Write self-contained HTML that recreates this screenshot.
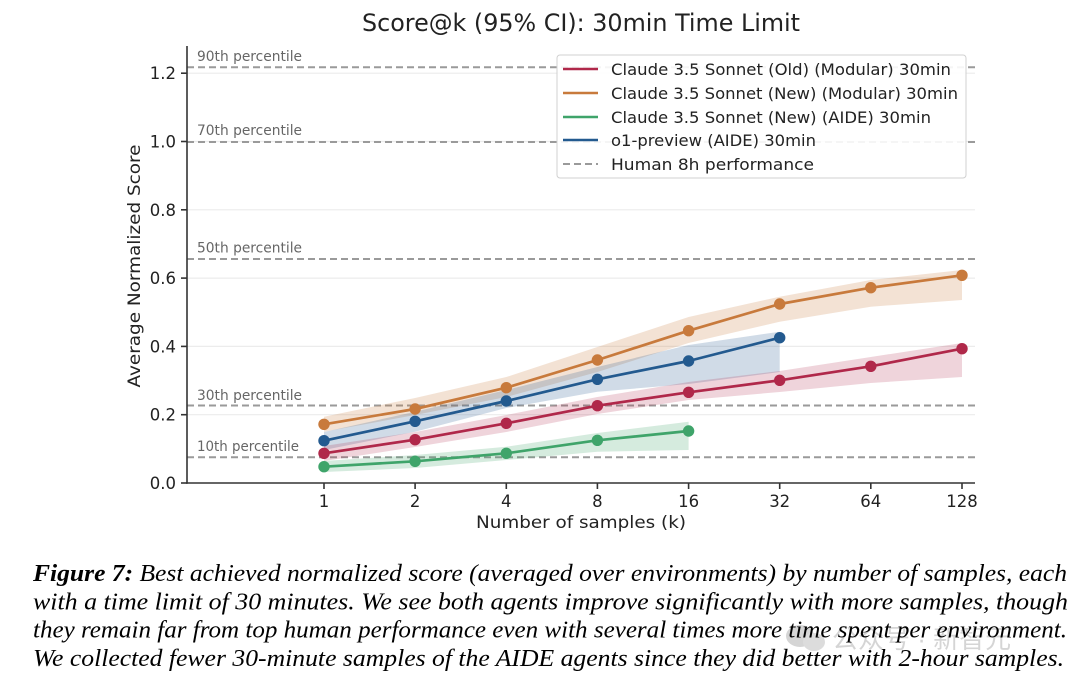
<!DOCTYPE html>
<html>
<head>
<meta charset="utf-8">
<style>
  html,body{margin:0;padding:0;background:#fff;}
  svg{display:block;}
</style>
</head>
<body>
<svg width="1080" height="686" viewBox="0 0 1080 686" xmlns="http://www.w3.org/2000/svg">
  <rect x="0" y="0" width="1080" height="686" fill="#fff"/>

  <!-- Title -->
  <text x="581" y="31" text-anchor="middle" font-family="'DejaVu Sans','Liberation Sans',sans-serif" font-size="24" fill="#222" textLength="438" lengthAdjust="spacingAndGlyphs">Score@k (95% CI): 30min Time Limit</text>

  <!-- gridlines -->
  <g stroke="#ececec" stroke-width="1.2">
    <line x1="187" y1="414.7" x2="975" y2="414.7"/>
    <line x1="187" y1="346.4" x2="975" y2="346.4"/>
    <line x1="187" y1="278.1" x2="975" y2="278.1"/>
    <line x1="187" y1="209.8" x2="975" y2="209.8"/>
    <line x1="187" y1="141.5" x2="975" y2="141.5"/>
    <line x1="187" y1="73.2" x2="975" y2="73.2"/>
  </g>

  <!-- human percentile dashed lines -->
  <g stroke="#9a9a9a" stroke-width="2" stroke-dasharray="7 4" fill="none">
    <line x1="187" y1="67.3" x2="975" y2="67.3"/>
    <line x1="187" y1="142" x2="975" y2="142"/>
    <line x1="187" y1="259" x2="975" y2="259"/>
    <line x1="187" y1="405.5" x2="975" y2="405.5"/>
    <line x1="187" y1="457.3" x2="975" y2="457.3"/>
  </g>
  <g font-family="'DejaVu Sans','Liberation Sans',sans-serif" font-size="14" fill="#666">
    <text x="197" y="61" textLength="105" lengthAdjust="spacingAndGlyphs">90th percentile</text>
    <text x="197" y="135" textLength="105" lengthAdjust="spacingAndGlyphs">70th percentile</text>
    <text x="197" y="252.5" textLength="105" lengthAdjust="spacingAndGlyphs">50th percentile</text>
    <text x="197" y="400" textLength="105" lengthAdjust="spacingAndGlyphs">30th percentile</text>
    <text x="197" y="451" textLength="102" lengthAdjust="spacingAndGlyphs">10th percentile</text>
  </g>

  <!-- CI bands -->
  <polygon fill="#c87a3c" fill-opacity="0.22" points="324,416.7 415.1,398 506.3,377 597.4,347 688.6,317 779.7,296.7 870.8,280 962,270 962,300 870.8,306.7 779.7,321.7 688.6,343 597.4,372 506.3,397 415.1,415 324,431.7"/>
  <polygon fill="#2a5d91" fill-opacity="0.22" points="324,432 415.1,411.7 506.3,390 597.4,367 688.6,345 779.7,331.7 779.7,372 688.6,384 597.4,391.7 506.3,408 415.1,431.7 324,450"/>
  <polygon fill="#b0284a" fill-opacity="0.2" points="324,446 415.1,432 506.3,415 597.4,397 688.6,382 779.7,371 870.8,357 962,343 962,377 870.8,383 779.7,392 688.6,400 597.4,414 506.3,432 415.1,447 324,461"/>
  <polygon fill="#3fa46a" fill-opacity="0.22" points="324,461 415.1,455 506.3,446.7 597.4,433 688.6,421.7 688.6,450 597.4,451.7 506.3,460 415.1,468 324,472"/>

  <!-- series lines -->
  <g fill="none" stroke-width="2.7" stroke-linejoin="round">
    <polyline stroke="#c87a3c" points="324,424.3 415.1,409 506.3,387.7 597.4,360 688.6,330.7 779.7,304 870.8,287.7 962,275.3"/>
    <polyline stroke="#235a8f" points="324,440.7 415.1,421.3 506.3,401 597.4,379.3 688.6,361 779.7,337.7"/>
    <polyline stroke="#b0284a" points="324,453.3 415.1,439.7 506.3,423.3 597.4,405.7 688.6,392.3 779.7,380.3 870.8,366.3 962,348.7"/>
    <polyline stroke="#3fa46a" points="324,466.7 415.1,461.3 506.3,453.3 597.4,440.3 688.6,431"/>
  </g>
  <!-- markers -->
  <g fill="#c87a3c">
    <circle cx="324" cy="424.3" r="5.7"/><circle cx="415.1" cy="409" r="5.7"/><circle cx="506.3" cy="387.7" r="5.7"/><circle cx="597.4" cy="360" r="5.7"/><circle cx="688.6" cy="330.7" r="5.7"/><circle cx="779.7" cy="304" r="5.7"/><circle cx="870.8" cy="287.7" r="5.7"/><circle cx="962" cy="275.3" r="5.7"/>
  </g>
  <g fill="#235a8f">
    <circle cx="324" cy="440.7" r="5.7"/><circle cx="415.1" cy="421.3" r="5.7"/><circle cx="506.3" cy="401" r="5.7"/><circle cx="597.4" cy="379.3" r="5.7"/><circle cx="688.6" cy="361" r="5.7"/><circle cx="779.7" cy="337.7" r="5.7"/>
  </g>
  <g fill="#b0284a">
    <circle cx="324" cy="453.3" r="5.7"/><circle cx="415.1" cy="439.7" r="5.7"/><circle cx="506.3" cy="423.3" r="5.7"/><circle cx="597.4" cy="405.7" r="5.7"/><circle cx="688.6" cy="392.3" r="5.7"/><circle cx="779.7" cy="380.3" r="5.7"/><circle cx="870.8" cy="366.3" r="5.7"/><circle cx="962" cy="348.7" r="5.7"/>
  </g>
  <g fill="#3fa46a">
    <circle cx="324" cy="466.7" r="5.7"/><circle cx="415.1" cy="461.3" r="5.7"/><circle cx="506.3" cy="453.3" r="5.7"/><circle cx="597.4" cy="440.3" r="5.7"/><circle cx="688.6" cy="431" r="5.7"/>
  </g>

  <!-- axes -->
  <g stroke="#333" stroke-width="1.6">
    <line x1="187" y1="46" x2="187" y2="483.8"/>
    <line x1="186.2" y1="483" x2="975" y2="483"/>
    <line x1="181" y1="483" x2="187" y2="483"/>
    <line x1="181" y1="414.7" x2="187" y2="414.7"/>
    <line x1="181" y1="346.4" x2="187" y2="346.4"/>
    <line x1="181" y1="278.1" x2="187" y2="278.1"/>
    <line x1="181" y1="209.8" x2="187" y2="209.8"/>
    <line x1="181" y1="141.5" x2="187" y2="141.5"/>
    <line x1="181" y1="73.2" x2="187" y2="73.2"/>
    <line x1="324" y1="483" x2="324" y2="489"/>
    <line x1="415.1" y1="483" x2="415.1" y2="489"/>
    <line x1="506.3" y1="483" x2="506.3" y2="489"/>
    <line x1="597.4" y1="483" x2="597.4" y2="489"/>
    <line x1="688.6" y1="483" x2="688.6" y2="489"/>
    <line x1="779.7" y1="483" x2="779.7" y2="489"/>
    <line x1="870.8" y1="483" x2="870.8" y2="489"/>
    <line x1="962" y1="483" x2="962" y2="489"/>
  </g>

  <!-- y tick labels -->
  <g font-family="'DejaVu Sans','Liberation Sans',sans-serif" font-size="16.5" fill="#222" text-anchor="end">
    <text x="176" y="489">0.0</text>
    <text x="176" y="420.7">0.2</text>
    <text x="176" y="352.4">0.4</text>
    <text x="176" y="284.1">0.6</text>
    <text x="176" y="215.8">0.8</text>
    <text x="176" y="147.5">1.0</text>
    <text x="176" y="79.2">1.2</text>
  </g>
  <!-- x tick labels -->
  <g font-family="'DejaVu Sans','Liberation Sans',sans-serif" font-size="16.5" fill="#222" text-anchor="middle">
    <text x="324" y="507">1</text>
    <text x="415.1" y="507">2</text>
    <text x="506.3" y="507">4</text>
    <text x="597.4" y="507">8</text>
    <text x="688.6" y="507">16</text>
    <text x="779.7" y="507">32</text>
    <text x="870.8" y="507">64</text>
    <text x="962" y="507">128</text>
  </g>

  <!-- axis labels -->
  <text x="581" y="528" text-anchor="middle" font-family="'DejaVu Sans','Liberation Sans',sans-serif" font-size="17" fill="#222" textLength="210" lengthAdjust="spacingAndGlyphs">Number of samples (k)</text>
  <text transform="translate(140,266) rotate(-90)" text-anchor="middle" font-family="'DejaVu Sans','Liberation Sans',sans-serif" font-size="17" fill="#222" textLength="243" lengthAdjust="spacingAndGlyphs">Average Normalized Score</text>

  <!-- legend -->
  <rect x="557" y="55" width="409" height="123" rx="3" fill="#fff" fill-opacity="0.9" stroke="#d0d0d0" stroke-width="1"/>
  <g stroke-width="2.4">
    <line x1="563" y1="69" x2="598" y2="69" stroke="#b0284a"/>
    <line x1="563" y1="93" x2="598" y2="93" stroke="#c87a3c"/>
    <line x1="563" y1="117" x2="598" y2="117" stroke="#3fa46a"/>
    <line x1="563" y1="140" x2="598" y2="140" stroke="#235a8f"/>
    <line x1="563" y1="164" x2="598" y2="164" stroke="#9a9a9a" stroke-dasharray="7 4" stroke-width="2"/>
  </g>
  <g font-family="'DejaVu Sans','Liberation Sans',sans-serif" font-size="16" fill="#222">
    <text x="611" y="75" textLength="340" lengthAdjust="spacingAndGlyphs">Claude 3.5 Sonnet (Old) (Modular) 30min</text>
    <text x="611" y="99" textLength="347" lengthAdjust="spacingAndGlyphs">Claude 3.5 Sonnet (New) (Modular) 30min</text>
    <text x="611" y="123" textLength="320" lengthAdjust="spacingAndGlyphs">Claude 3.5 Sonnet (New) (AIDE) 30min</text>
    <text x="611" y="146" textLength="205" lengthAdjust="spacingAndGlyphs">o1-preview (AIDE) 30min</text>
    <text x="611" y="170" textLength="203" lengthAdjust="spacingAndGlyphs">Human 8h performance</text>
  </g>

  <!-- watermark -->
  <g opacity="0.4">
    <ellipse cx="800" cy="636" rx="14" ry="11" fill="#999"/>
    <ellipse cx="814" cy="642" rx="11" ry="9" fill="#aaa"/>
    <text x="832" y="648" font-family="'Liberation Sans','Noto Sans CJK SC',sans-serif" font-size="26" fill="#999">公众号 · 新智元</text>
  </g>

  <!-- caption -->
  <g font-family="'Liberation Serif',serif" font-style="italic" font-size="24.5" fill="#000">
    <text x="33" y="581" textLength="1034" lengthAdjust="spacingAndGlyphs"><tspan font-weight="bold">Figure 7:</tspan> Best achieved normalized score (averaged over environments) by number of samples, each</text>
    <text x="33" y="609.5" textLength="1035" lengthAdjust="spacingAndGlyphs">with a time limit of 30 minutes. We see both agents improve significantly with more samples, though</text>
    <text x="33" y="637.5" textLength="1034" lengthAdjust="spacingAndGlyphs">they remain far from top human performance even with several times more time spent per environment.</text>
    <text x="33" y="666" textLength="1031" lengthAdjust="spacingAndGlyphs">We collected fewer 30-minute samples of the AIDE agents since they did better with 2-hour samples.</text>
  </g>
</svg>
</body>
</html>
